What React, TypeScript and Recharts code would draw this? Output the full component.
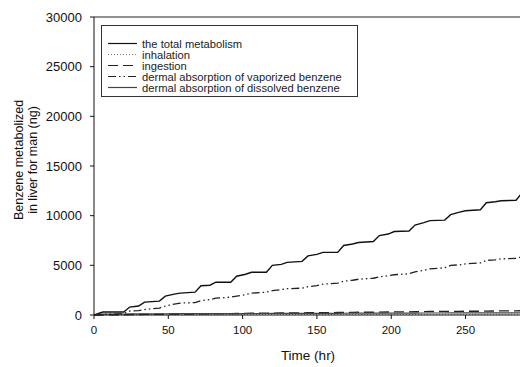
import React from "react";
import { CartesianGrid, Legend, Line, LineChart, ReferenceLine, XAxis, YAxis } from "recharts";

const hours = [
  0, 4, 6, 10, 20, 24, 30, 34, 44, 48, 54, 58, 68, 72, 78, 82, 92, 96, 102, 106, 116, 120, 126, 130, 140, 144, 150, 154,
  164, 168, 174, 178, 188, 192, 198, 202, 212, 216, 222, 226, 236, 240, 246, 250, 260, 264, 270, 274, 284, 288
];

const totalMetabolism = [
  0, 200, 300, 300, 300, 800, 900, 1300, 1400, 1900, 2100, 2200, 2300, 2950, 3000, 3300, 3300, 3900, 4100, 4300, 4300,
  5000, 5100, 5300, 5400, 5950, 6100, 6300, 6300, 7000, 7150, 7300, 7400, 8000, 8150, 8400, 8450, 9050, 9300, 9500, 9550,
  10100, 10350, 10500, 10600, 11300, 11400, 11500, 11550, 12300
];

const inhalation = [
  0, 5, 10, 10, 12, 15, 18, 20, 22, 25, 27, 28, 30, 32, 34, 35, 36, 38, 40, 41, 42, 44, 45, 46, 47, 49, 50, 51, 52, 54,
  55, 56, 57, 58, 59, 60, 61, 62, 63, 64, 65, 66, 67, 68, 69, 70, 71, 72, 73, 74
];

const ingestion = [
  0, 0, 10, 20, 30, 40, 50, 60, 70, 80, 90, 100, 105, 115, 125, 135, 140, 150, 160, 170, 175, 185, 195, 205, 210, 220,
  230, 240, 245, 255, 265, 275, 280, 290, 300, 310, 315, 325, 335, 345, 350, 360, 370, 380, 385, 395, 405, 415, 420, 430
];

const dermalVaporized = [
  0, 50, 80, 100, 150, 400, 450, 550, 700, 900, 1100, 1200, 1250, 1450, 1550, 1700, 1800, 1900, 2050, 2200, 2300, 2450,
  2550, 2650, 2700, 2850, 2950, 3100, 3200, 3400, 3500, 3600, 3700, 3850, 3950, 4050, 4150, 4350, 4500, 4650, 4750, 5000,
  5050, 5150, 5250, 5500, 5550, 5650, 5700, 5850
];

const dermalDissolved = [
  0, 60, 90, 100, 100, 110, 115, 120, 120, 125, 130, 130, 130, 135, 140, 140, 140, 145, 150, 150, 150, 155, 160, 160,
  160, 165, 170, 170, 170, 175, 180, 180, 180, 185, 190, 190, 190, 195, 200, 200, 200, 205, 210, 210, 210, 215, 220, 220,
  220, 225
];

const seriesNames = [
  "the total metabolism",
  "inhalation",
  "ingestion",
  "dermal absorption of vaporized benzene",
  "dermal absorption of dissolved benzene"
];

const yTicks = [0, 5000, 10000, 15000, 20000, 25000, 30000];
const xTicks = [0, 50, 100, 150, 200, 250];

const data = hours.map((hour, i) => ({
  hour,
  total: totalMetabolism[i],
  inhalation: inhalation[i],
  ingestion: ingestion[i],
  vaporized: dermalVaporized[i],
  dissolved: dermalDissolved[i]
}));

const lineStyles = [
  { key: "total", dash: undefined, color: "#111", width: 1.4 },
  { key: "inhalation", dash: "1 2", color: "#777", width: 1 },
  { key: "ingestion", dash: "10 5", color: "#222", width: 1.4 },
  { key: "vaporized", dash: "8 3 1.5 3 1.5 3", color: "#222", width: 1.3 },
  { key: "dissolved", dash: undefined, color: "#444", width: 1.2 }
];

const font = "'Liberation Sans', Arial, sans-serif";

function LegendBox() {
  return (
    <div
      style={{
        width: 257,
        height: 72,
        boxSizing: "border-box",
        border: "1px solid #333",
        background: "#fff",
        paddingTop: 12,
        fontFamily: font,
        fontSize: 11.2,
        color: "#222"
      }}
    >
      {seriesNames.map((name, i) => (
        <div key={name} style={{ display: "flex", alignItems: "center", height: 11 }}>
          <svg width={40} height={11}>
            <line
              x1={6}
              x2={35}
              y1={5.5}
              y2={5.5}
              stroke={lineStyles[i].color}
              strokeWidth={1.2}
              strokeDasharray={lineStyles[i].dash}
            />
          </svg>
          <span>{name}</span>
        </div>
      ))}
    </div>
  );
}

function YLabel() {
  return (
    <g fontFamily={font} fontSize={12.5} fill="#111">
      <text x={19} y={160} textAnchor="middle" dominantBaseline="central" transform="rotate(-90, 19, 160)">
        Benzene metabolized
      </text>
      <text x={33} y={160} textAnchor="middle" dominantBaseline="central" transform="rotate(-90, 33, 160)">
        in liver for man (ng)
      </text>
    </g>
  );
}

export default function App() {
  return (
    <div style={{ position: "absolute", left: 0, top: 0, width: 520, height: 367, overflow: "hidden", background: "#fff" }}>
      <LineChart width={522} height={367} data={data} margin={{ top: 17, right: 0, bottom: 0, left: 0 }}>
        <CartesianGrid stroke="none" />
        <XAxis
          type="number"
          dataKey="hour"
          domain={[0, 288]}
          ticks={xTicks}
          allowDataOverflow
          height={52}
          tickSize={4}
          tickMargin={7}
          stroke="#111"
          tick={{ fill: "#111", fontSize: 11.5, fontFamily: font }}
          label={{ value: "Time (hr)", position: "insideBottom", offset: 7, fill: "#111", fontSize: 13.5, fontFamily: font }}
        />
        <YAxis
          type="number"
          domain={[0, 30000]}
          ticks={yTicks}
          width={94}
          tickSize={4}
          tickMargin={8}
          stroke="#111"
          tick={{ fill: "#111", fontSize: 13, fontFamily: font }}
          label={{ content: () => <YLabel /> }}
        />
        <ReferenceLine y={30000} stroke="#222" strokeWidth={1} />
        <Legend
          layout="horizontal"
          verticalAlign="middle"
          align="center"
          wrapperStyle={{ position: "absolute", left: 101, top: 25, width: 257, height: 72 }}
          content={() => <LegendBox />}
        />
        {lineStyles.map((s) => (
          <Line
            key={s.key}
            type="linear"
            dataKey={s.key}
            stroke={s.color}
            strokeWidth={s.width}
            strokeDasharray={s.dash}
            dot={false}
            isAnimationActive={false}
          />
        ))}
      </LineChart>
    </div>
  );
}
